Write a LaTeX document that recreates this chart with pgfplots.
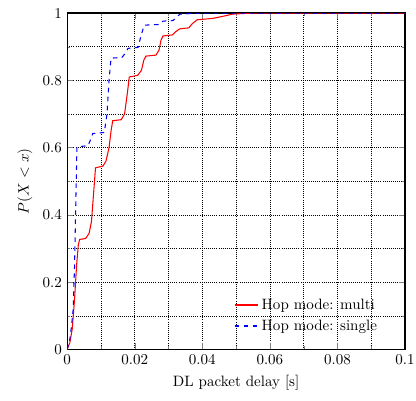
\documentclass[border=0pt]{standalone}
\usepackage{pgfplots}
\pgfplotsset{compat=1.18}
\begin{document}
\begin{tikzpicture}
\begin{axis}[
    width=225pt, height=224pt, scale only axis,
    xmin=0, xmax=0.1, ymin=0, ymax=1,
    xtick={0,0.02,...,0.1}, ytick={0,0.2,...,1},
    xticklabels={0,0.02,0.04,0.06,0.08,0.1},
    yticklabels={0,0.2,0.4,0.6,0.8,1},
    minor x tick num=1, minor y tick num=1,
    grid=both,
    major grid style={black, densely dotted, line width=0.4pt},
    minor grid style={black, densely dotted, line width=0.4pt},
    tick align=inside, tick pos=both,
    major tick length=4pt, minor tick length=2pt,
    axis line style={line width=0.8pt},
    xlabel={DL packet delay [s]},
    ylabel={$P(X<x)$},
    legend style={at={(0.94,0.03)}, anchor=south east, draw=none, fill=none,
                  font=\normalsize, row sep=1.5pt},
    legend image code/.code={\draw[#1, line width=0.9pt] (0cm,0.5pt) -- (0.55cm,0.5pt);},
    legend cell align=left,
]
\addplot[color=red, solid, line width=0.7pt] coordinates {
 (0,0) (0.0008,0.02) (0.0015,0.06) (0.0022,0.15) (0.0028,0.25) (0.0033,0.31)
 (0.0037,0.327) (0.0055,0.33) (0.0065,0.345) (0.0072,0.38) (0.0078,0.46)
 (0.0084,0.54) (0.0106,0.545) (0.0115,0.56) (0.0124,0.60) (0.0130,0.65)
 (0.0135,0.68) (0.016,0.683) (0.017,0.70) (0.0178,0.76) (0.0184,0.81)
 (0.0209,0.815) (0.022,0.83) (0.0227,0.86) (0.0233,0.872) (0.0263,0.875)
 (0.0272,0.89) (0.0278,0.92) (0.0284,0.932) (0.0312,0.935) (0.0322,0.945)
 (0.0333,0.953) (0.036,0.956) (0.037,0.968) (0.0385,0.98) (0.043,0.984)
 (0.046,0.99) (0.049,0.997) (0.055,1) (0.1,1)
};
\addlegendentry{Hop mode: multi}
\addplot[color=blue, dashed, line width=0.7pt] coordinates {
 (0,0) (0.0008,0.03) (0.0013,0.07) (0.0018,0.12) (0.0022,0.25) (0.0025,0.4)
 (0.0029,0.602) (0.0062,0.606) (0.007,0.625) (0.0076,0.642) (0.011,0.645)
 (0.0118,0.7) (0.0124,0.8) (0.013,0.866) (0.0162,0.868) (0.0172,0.88)
 (0.018,0.895) (0.021,0.898) (0.0218,0.93) (0.0228,0.964) (0.027,0.966)
 (0.0284,0.976) (0.0314,0.978) (0.0334,0.997) (0.04,1) (0.1,1)
};
\addlegendentry{Hop mode: single}
\end{axis}
\pgfresetboundingbox
\path ([shift={(-44.7pt,-34pt)}]current axis.south west)
  rectangle ([shift={(7.3pt,8.7pt)}]current axis.north east);
\end{tikzpicture}
\end{document}
